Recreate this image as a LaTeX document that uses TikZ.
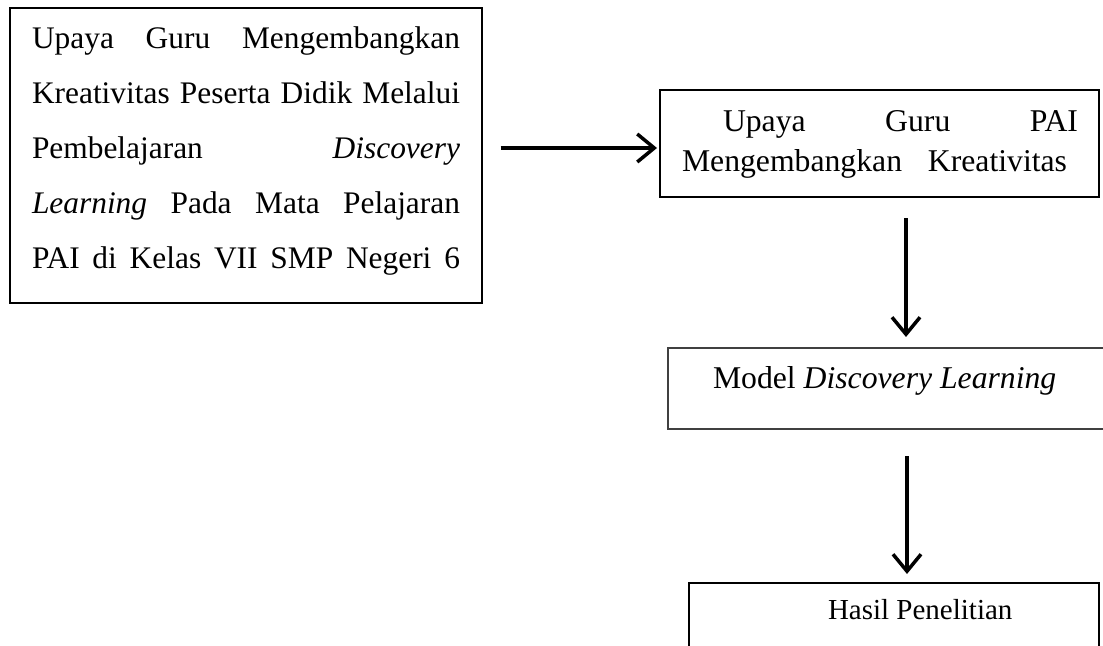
\documentclass[tikz,border=0pt]{standalone}
\usepackage{fontspec}
\setmainfont{Liberation Serif}
\usetikzlibrary{arrows.meta}
\begin{document}
\begin{tikzpicture}[x=1bp,y=-1bp,
  frame/.style={draw, inner sep=0pt, outer sep=0pt},
  thickframe/.style={frame, line width=2bp},
  thinframe/.style={frame, line width=1.2bp},
  txt/.style={anchor=base west, inner sep=0pt, outer sep=0pt},
  smallfont/.style={font=\fontsize{29bp}{35bp}\selectfont},
  midfont/.style={font=\fontsize{31.4bp}{38bp}\selectfont},
  bigfont/.style={font=\fontsize{31.7bp}{38bp}\selectfont},
  flow/.style={line width=3.5bp, -{Straight Barb[length=17bp,width=28bp]}}
]
\useasboundingbox (0,0) rectangle (1103,646);
\clip (0,0) rectangle (1103,646);

% Box 1
\node[thickframe, minimum width=471bp, minimum height=295bp] (b1) at (246,155.8) {};
\node[txt, midfont] (b1l1) at (32,48.3) {\makebox[428bp][s]{Upaya Guru Mengembangkan}};
\node[txt, midfont] (b1l2) at (32,103.3) {\makebox[428bp][s]{Kreativitas Peserta Didik Melalui}};
\node[txt, midfont] (b1l3) at (32,158.3) {\makebox[428bp][s]{Pembelajaran \textit{Discovery}}};
\node[txt, midfont] (b1l4) at (32,213.3) {\makebox[428bp][s]{\textit{Learning} Pada Mata Pelajaran}};
\node[txt, midfont] (b1l5) at (32,268.3) {\makebox[428bp][s]{PAI di Kelas VII SMP Negeri 6}};

% Box 2
\node[thickframe, minimum width=439bp, minimum height=107bp] (b2) at (879.5,143.5) {};
\node[txt, bigfont] (b2l1) at (723,132) {\makebox[355bp][s]{Upaya Guru PAI}};
\node[txt, bigfont] (b2l2) at (682,172) {\makebox[385bp][s]{Mengembangkan Kreativitas}};

% Box 3
\node[thinframe, draw=black!75, minimum width=452bp, minimum height=81bp] (b3) at (894,388.5) {};
\node[txt, bigfont] (b3t) at (713,388) {Model \textit{Discovery Learning}};

% Box 4
\node[thinframe, minimum width=410bp, minimum height=97bp] (b4) at (894,631.5) {};
\node[txt, smallfont] (b4t) at (828,619) {Hasil Penelitian};

% Connectors
\coordinate (ax1) at (906,0);
\coordinate (ax2) at (907,0);
\draw[flow, shorten <=19bp, shorten >=3bp] (b1.east |- 0,148) -- (b2.west |- 0,148);
\draw[flow, shorten <=21bp, shorten >=11bp] (b2.south -| ax1) -- (b3.north -| ax1);
\draw[flow, shorten <=27bp, shorten >=9bp] (b3.south -| ax2) -- (b4.north -| ax2);
\end{tikzpicture}
\end{document}
